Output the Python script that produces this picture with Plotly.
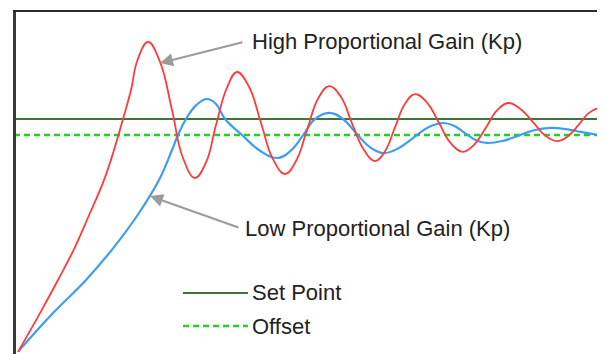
import plotly.graph_objects as go

# ---- data (time in arbitrary units, response relative to set point = 1) ----
t_high = [0.4, 2.6, 4.4, 6.1, 7.6, 9.0, 10.0, 10.9, 11.7, 12.35, 13.4, 14.6, 15.8, 16.9, 18.1,
          19.2, 20.2, 21.3, 22.3, 23.5, 24.7, 25.9, 27.1, 28.2, 29.3, 30.4, 31.5,
          32.7, 33.8, 35.0, 36.1, 37.1, 38.1, 39.1, 40.1, 41.3, 42.5, 43.7, 44.9,
          46.0, 47.2, 48.3, 49.4, 50.6, 51.9, 53.1, 54.3, 55.4, 56.5, 57.5, 58.6,
          59.7, 60.9]
v_high = [0.009, 0.174, 0.315, 0.455, 0.600, 0.740, 0.868, 1.000, 1.123, 1.251, 1.328,
          1.243, 1.038, 0.834, 0.749,
          0.815, 0.974, 1.134, 1.200, 1.137, 0.983, 0.829, 0.766, 0.821, 0.953, 1.086, 1.140,
          1.094, 0.981, 0.868, 0.821, 0.863, 0.964, 1.065, 1.106, 1.070, 0.983, 0.896, 0.860,
          0.890, 0.964, 1.037, 1.068, 1.044, 0.987, 0.930, 0.906, 0.927, 0.977, 1.026, 1.047,
          1.032, 0.989]

t_low = [0.4, 3.9, 7.2, 10.0, 12.5, 14.5, 15.8, 16.4, 17.2, 18.3, 19.3, 20.2, 21.1, 22.8,
         24.5, 26.3, 27.6, 28.9, 30.0, 31.5, 32.9, 34.2, 35.6, 36.9, 38.4, 39.9, 41.4,
         42.9, 44.0, 45.1, 46.2, 47.3, 48.9, 50.5, 52.0, 53.6, 55.2, 56.7, 58.3, 59.8, 61.6]
v_low = [0.009, 0.174, 0.315, 0.455, 0.600, 0.740, 0.868, 0.932, 1.000, 1.062, 1.085, 1.064,
         1.000, 0.932, 0.868, 0.834, 0.862, 0.930, 0.996, 1.026, 1.000, 0.940, 0.880, 0.855,
         0.874, 0.919, 0.964, 0.983, 0.971, 0.940, 0.910, 0.898, 0.907, 0.930, 0.952, 0.962,
         0.957, 0.945, 0.933, 0.928, 0.932]

set_point = 1.0
offset_level = 0.932
t_span = [0.0, 62.0]

label_high = "High Proportional Gain (Kp)"
label_low = "Low Proportional Gain (Kp)"
legend_labels = ["Set Point", "Offset"]

# ---- styles ----
RED = "#ff3b3b"
BLUE = "#3d9df5"
DKGREEN = "#3f7437"
LTGREEN = "#22d022"
GREY = "#9b9b9b"
TXT = "#222222"
FONT = "Liberation Sans, Arial, sans-serif"

fig = go.Figure()
fig.add_trace(go.Scatter(x=t_span, y=[set_point, set_point], mode="lines",
                         line=dict(color=DKGREEN, width=2), hoverinfo="skip"))
fig.add_trace(go.Scatter(x=t_span, y=[offset_level, offset_level], mode="lines",
                         line=dict(color=LTGREEN, width=2.5, dash="6px,4px"), hoverinfo="skip"))
fig.add_trace(go.Scatter(x=t_low, y=v_low, mode="lines",
                         line=dict(color=BLUE, width=2.2, shape="spline", smoothing=1.2),
                         hoverinfo="skip"))
fig.add_trace(go.Scatter(x=t_high, y=v_high, mode="lines",
                         line=dict(color=RED, width=1.8, shape="spline", smoothing=1.2),
                         hoverinfo="skip"))

# legend drawn manually
fig.add_shape(type="line", xref="x", yref="y", x0=16.9, x1=23.4, y0=0.260, y1=0.260,
              line=dict(color=DKGREEN, width=2))
fig.add_shape(type="line", xref="x", yref="y", x0=16.9, x1=23.4, y0=0.119, y1=0.119,
              line=dict(color=LTGREEN, width=2.5, dash="6px,4px"))
fig.add_annotation(x=23.6, y=0.260, text=legend_labels[0], showarrow=False,
                   xanchor="left", yanchor="middle", font=dict(size=22, color=TXT, family=FONT))
fig.add_annotation(x=23.6, y=0.119, text=legend_labels[1], showarrow=False,
                   xanchor="left", yanchor="middle", font=dict(size=22, color=TXT, family=FONT))

# labels
fig.add_annotation(x=23.6, y=1.328, text=label_high, showarrow=False,
                   xanchor="left", yanchor="middle", font=dict(size=22, color=TXT, family=FONT))
fig.add_annotation(x=22.9, y=0.532, text=label_low, showarrow=False,
                   xanchor="left", yanchor="middle", font=dict(size=22, color=TXT, family=FONT))

# arrows
fig.add_annotation(x=14.6, y=1.238, ax=23.0, ay=1.328, axref="x", ayref="y", text="",
                   showarrow=True, arrowhead=2, arrowsize=1.3, arrowwidth=2,
                   arrowcolor=GREY, standoff=0, startstandoff=0)
fig.add_annotation(x=13.6, y=0.672, ax=22.6, ay=0.536, axref="x", ayref="y", text="",
                   showarrow=True, arrowhead=2, arrowsize=1.3, arrowwidth=2,
                   arrowcolor=GREY, standoff=0, startstandoff=0)

# page body has an 8px default margin, so the figure is shifted by 8px
fig.update_layout(
    width=597, height=346,
    margin=dict(l=8, r=0, t=4, b=0, autoexpand=False),
    paper_bgcolor="white", plot_bgcolor="white",
    showlegend=False,
    xaxis=dict(range=[0.2, 59.1], side="top", showline=True, linecolor="#2a2a2a",
               linewidth=2, showgrid=False, zeroline=False, showticklabels=False,
               ticks="", fixedrange=True),
    yaxis=dict(range=[0, 1.4553], showline=True, linecolor="#3a3a3a", linewidth=2.5,
               showgrid=False, zeroline=False, showticklabels=False, ticks="",
               fixedrange=True),
)

fig.write_html("out.html", config={"displayModeBar": False})
